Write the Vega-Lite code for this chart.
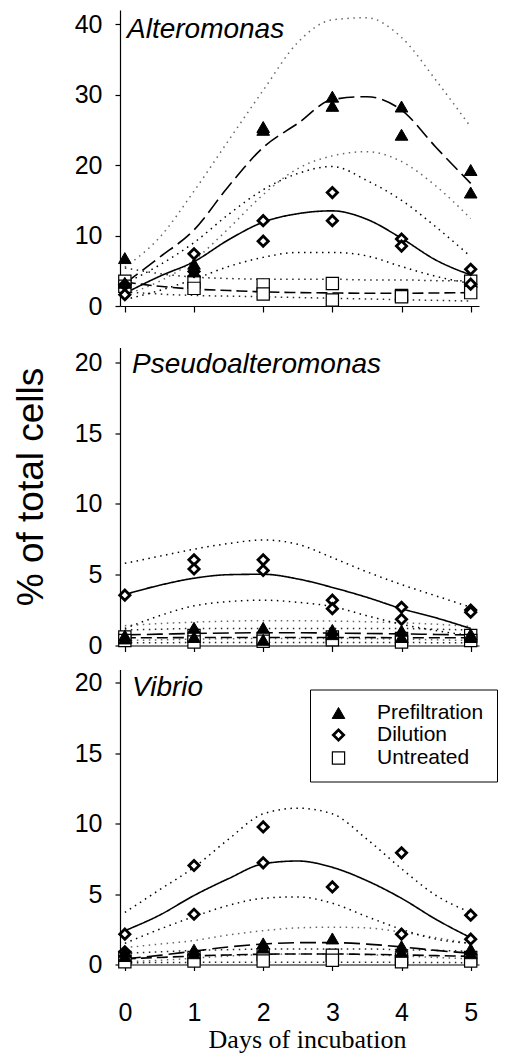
{
"$schema":"https://vega.github.io/schema/vega-lite/v6.json",
"background":"white",
"padding":{"left":12,"top":10,"right":0,"bottom":5},
"spacing":28.5,
"resolve":{"legend":{"shape":"independent","fill":"independent","size":"independent","strokeWidth":"independent","strokeDash":"independent","opacity":"independent"}},
"config":{
"view":{"stroke":null},
"axis":{"grid":false,"domainColor":"#000","domainWidth":1.2,"tickColor":"#000","tickWidth":1.2,"labelColor":"#000","labelFont":"Liberation Sans","labelFontSize":25,"titleColor":"#000","titleFontWeight":"normal"},
"axisX":{"tickSize":6,"labelPadding":30,"labelFlush":false},
"axisY":{"tickSize":5,"labelPadding":13,"titleFont":"Liberation Sans","titleFontSize":37},
"legend":{"labelFont":"Liberation Sans","labelFontSize":21,"labelColor":"#000","strokeColor":"#000","padding":13,"rowPadding":0,"labelOffset":28,"symbolOffset":5,"fillColor":"white","symbolStrokeColor":"#000","symbolOpacity":1},
"title":{"font":"Liberation Sans","fontSize":28,"fontStyle":"italic","fontWeight":"normal","color":"#000","anchor":"start","frame":"group","baseline":"alphabetic"}
},
"datasets":{
"pts":[
{"genus":"Alteromonas","treatment":"Untreated","day":0,"pct":3.5},{"genus":"Alteromonas","treatment":"Untreated","day":0,"pct":2.8},
{"genus":"Alteromonas","treatment":"Untreated","day":1,"pct":3.4},{"genus":"Alteromonas","treatment":"Untreated","day":1,"pct":2.5},
{"genus":"Alteromonas","treatment":"Untreated","day":2,"pct":3.0},{"genus":"Alteromonas","treatment":"Untreated","day":2,"pct":1.7},
{"genus":"Alteromonas","treatment":"Untreated","day":3,"pct":3.2},{"genus":"Alteromonas","treatment":"Untreated","day":3,"pct":0.85},
{"genus":"Alteromonas","treatment":"Untreated","day":4,"pct":1.5},{"genus":"Alteromonas","treatment":"Untreated","day":4,"pct":1.3},
{"genus":"Alteromonas","treatment":"Untreated","day":5,"pct":3.5},{"genus":"Alteromonas","treatment":"Untreated","day":5,"pct":1.9},
{"genus":"Alteromonas","treatment":"Dilution","day":0,"pct":3.0},{"genus":"Alteromonas","treatment":"Dilution","day":0,"pct":1.6},
{"genus":"Alteromonas","treatment":"Dilution","day":1,"pct":7.4},{"genus":"Alteromonas","treatment":"Dilution","day":1,"pct":4.9},
{"genus":"Alteromonas","treatment":"Dilution","day":2,"pct":12.1},{"genus":"Alteromonas","treatment":"Dilution","day":2,"pct":9.2},
{"genus":"Alteromonas","treatment":"Dilution","day":3,"pct":16.1},{"genus":"Alteromonas","treatment":"Dilution","day":3,"pct":12.1},
{"genus":"Alteromonas","treatment":"Dilution","day":4,"pct":9.5},{"genus":"Alteromonas","treatment":"Dilution","day":4,"pct":8.5},
{"genus":"Alteromonas","treatment":"Dilution","day":5,"pct":5.2},{"genus":"Alteromonas","treatment":"Dilution","day":5,"pct":3.1},
{"genus":"Alteromonas","treatment":"Prefiltration","day":0,"pct":6.8},{"genus":"Alteromonas","treatment":"Prefiltration","day":0,"pct":3.3},
{"genus":"Alteromonas","treatment":"Prefiltration","day":1,"pct":6.0},{"genus":"Alteromonas","treatment":"Prefiltration","day":1,"pct":4.9},
{"genus":"Alteromonas","treatment":"Prefiltration","day":2,"pct":25.4},{"genus":"Alteromonas","treatment":"Prefiltration","day":2,"pct":25.0},
{"genus":"Alteromonas","treatment":"Prefiltration","day":3,"pct":29.7},{"genus":"Alteromonas","treatment":"Prefiltration","day":3,"pct":28.4},
{"genus":"Alteromonas","treatment":"Prefiltration","day":4,"pct":28.3},{"genus":"Alteromonas","treatment":"Prefiltration","day":4,"pct":24.3},
{"genus":"Alteromonas","treatment":"Prefiltration","day":5,"pct":19.3},{"genus":"Alteromonas","treatment":"Prefiltration","day":5,"pct":16.1},
{"genus":"Pseudoalteromonas","treatment":"Untreated","day":0,"pct":0.6},{"genus":"Pseudoalteromonas","treatment":"Untreated","day":0,"pct":0.35},
{"genus":"Pseudoalteromonas","treatment":"Untreated","day":1,"pct":0.7},{"genus":"Pseudoalteromonas","treatment":"Untreated","day":1,"pct":0.25},
{"genus":"Pseudoalteromonas","treatment":"Untreated","day":2,"pct":0.5},{"genus":"Pseudoalteromonas","treatment":"Untreated","day":2,"pct":0.3},
{"genus":"Pseudoalteromonas","treatment":"Untreated","day":3,"pct":0.6},{"genus":"Pseudoalteromonas","treatment":"Untreated","day":3,"pct":0.4},
{"genus":"Pseudoalteromonas","treatment":"Untreated","day":4,"pct":0.5},{"genus":"Pseudoalteromonas","treatment":"Untreated","day":4,"pct":0.25},
{"genus":"Pseudoalteromonas","treatment":"Untreated","day":5,"pct":0.7},{"genus":"Pseudoalteromonas","treatment":"Untreated","day":5,"pct":0.35},
{"genus":"Pseudoalteromonas","treatment":"Dilution","day":0,"pct":3.55},
{"genus":"Pseudoalteromonas","treatment":"Dilution","day":1,"pct":6.05},{"genus":"Pseudoalteromonas","treatment":"Dilution","day":1,"pct":5.4},
{"genus":"Pseudoalteromonas","treatment":"Dilution","day":2,"pct":6.05},{"genus":"Pseudoalteromonas","treatment":"Dilution","day":2,"pct":5.3},
{"genus":"Pseudoalteromonas","treatment":"Dilution","day":3,"pct":3.2},{"genus":"Pseudoalteromonas","treatment":"Dilution","day":3,"pct":2.6},
{"genus":"Pseudoalteromonas","treatment":"Dilution","day":4,"pct":2.7},{"genus":"Pseudoalteromonas","treatment":"Dilution","day":4,"pct":1.85},
{"genus":"Pseudoalteromonas","treatment":"Dilution","day":5,"pct":2.5},{"genus":"Pseudoalteromonas","treatment":"Dilution","day":5,"pct":2.35},
{"genus":"Pseudoalteromonas","treatment":"Prefiltration","day":0,"pct":0.7},{"genus":"Pseudoalteromonas","treatment":"Prefiltration","day":0,"pct":0.5},
{"genus":"Pseudoalteromonas","treatment":"Prefiltration","day":1,"pct":1.25},{"genus":"Pseudoalteromonas","treatment":"Prefiltration","day":1,"pct":0.6},
{"genus":"Pseudoalteromonas","treatment":"Prefiltration","day":2,"pct":1.25},{"genus":"Pseudoalteromonas","treatment":"Prefiltration","day":2,"pct":0.4},
{"genus":"Pseudoalteromonas","treatment":"Prefiltration","day":3,"pct":1.1},{"genus":"Pseudoalteromonas","treatment":"Prefiltration","day":3,"pct":0.8},
{"genus":"Pseudoalteromonas","treatment":"Prefiltration","day":4,"pct":1.05},{"genus":"Pseudoalteromonas","treatment":"Prefiltration","day":4,"pct":0.6},
{"genus":"Pseudoalteromonas","treatment":"Prefiltration","day":5,"pct":0.8},{"genus":"Pseudoalteromonas","treatment":"Prefiltration","day":5,"pct":0.6},
{"genus":"Vibrio","treatment":"Untreated","day":0,"pct":0.5},{"genus":"Vibrio","treatment":"Untreated","day":0,"pct":0.2},
{"genus":"Vibrio","treatment":"Untreated","day":1,"pct":0.5},{"genus":"Vibrio","treatment":"Untreated","day":1,"pct":0.25},
{"genus":"Vibrio","treatment":"Untreated","day":2,"pct":0.7},{"genus":"Vibrio","treatment":"Untreated","day":2,"pct":0.25},
{"genus":"Vibrio","treatment":"Untreated","day":3,"pct":0.65},{"genus":"Vibrio","treatment":"Untreated","day":3,"pct":0.3},
{"genus":"Vibrio","treatment":"Untreated","day":4,"pct":0.4},{"genus":"Vibrio","treatment":"Untreated","day":4,"pct":0.2},
{"genus":"Vibrio","treatment":"Untreated","day":5,"pct":0.5},{"genus":"Vibrio","treatment":"Untreated","day":5,"pct":0.25},
{"genus":"Vibrio","treatment":"Dilution","day":0,"pct":2.15},{"genus":"Vibrio","treatment":"Dilution","day":0,"pct":0.9},
{"genus":"Vibrio","treatment":"Dilution","day":1,"pct":7.03},{"genus":"Vibrio","treatment":"Dilution","day":1,"pct":3.57},
{"genus":"Vibrio","treatment":"Dilution","day":2,"pct":9.77},{"genus":"Vibrio","treatment":"Dilution","day":2,"pct":7.22},
{"genus":"Vibrio","treatment":"Dilution","day":3,"pct":5.51},
{"genus":"Vibrio","treatment":"Dilution","day":4,"pct":7.93},{"genus":"Vibrio","treatment":"Dilution","day":4,"pct":2.15},
{"genus":"Vibrio","treatment":"Dilution","day":5,"pct":3.5},{"genus":"Vibrio","treatment":"Dilution","day":5,"pct":1.8},
{"genus":"Vibrio","treatment":"Prefiltration","day":0,"pct":0.9},{"genus":"Vibrio","treatment":"Prefiltration","day":0,"pct":0.6},
{"genus":"Vibrio","treatment":"Prefiltration","day":1,"pct":1.05},{"genus":"Vibrio","treatment":"Prefiltration","day":1,"pct":0.8},
{"genus":"Vibrio","treatment":"Prefiltration","day":2,"pct":1.5},{"genus":"Vibrio","treatment":"Prefiltration","day":2,"pct":1.2},
{"genus":"Vibrio","treatment":"Prefiltration","day":3,"pct":1.85},
{"genus":"Vibrio","treatment":"Prefiltration","day":4,"pct":1.3},{"genus":"Vibrio","treatment":"Prefiltration","day":4,"pct":0.9},
{"genus":"Vibrio","treatment":"Prefiltration","day":5,"pct":1.1},{"genus":"Vibrio","treatment":"Prefiltration","day":5,"pct":0.8}
],
"fits":[
{"genus":"Alteromonas","treatment":"Prefiltration","curve":"fit","day":0,"pct":3.2},{"genus":"Alteromonas","treatment":"Prefiltration","curve":"fit","day":0.5,"pct":6.9},{"genus":"Alteromonas","treatment":"Prefiltration","curve":"fit","day":1,"pct":10.8},{"genus":"Alteromonas","treatment":"Prefiltration","curve":"fit","day":1.5,"pct":17.0},{"genus":"Alteromonas","treatment":"Prefiltration","curve":"fit","day":2,"pct":22.5},{"genus":"Alteromonas","treatment":"Prefiltration","curve":"fit","day":2.5,"pct":25.9},{"genus":"Alteromonas","treatment":"Prefiltration","curve":"fit","day":3,"pct":29.3},{"genus":"Alteromonas","treatment":"Prefiltration","curve":"fit","day":3.5,"pct":29.7},{"genus":"Alteromonas","treatment":"Prefiltration","curve":"fit","day":4,"pct":27.8},{"genus":"Alteromonas","treatment":"Prefiltration","curve":"fit","day":4.5,"pct":22.5},{"genus":"Alteromonas","treatment":"Prefiltration","curve":"fit","day":5,"pct":17.4},
{"genus":"Alteromonas","treatment":"Prefiltration","curve":"upper","day":0,"pct":5.5},{"genus":"Alteromonas","treatment":"Prefiltration","curve":"upper","day":0.5,"pct":9.7},{"genus":"Alteromonas","treatment":"Prefiltration","curve":"upper","day":1,"pct":16.3},{"genus":"Alteromonas","treatment":"Prefiltration","curve":"upper","day":1.5,"pct":23.5},{"genus":"Alteromonas","treatment":"Prefiltration","curve":"upper","day":2,"pct":30.6},{"genus":"Alteromonas","treatment":"Prefiltration","curve":"upper","day":2.5,"pct":37.4},{"genus":"Alteromonas","treatment":"Prefiltration","curve":"upper","day":3,"pct":40.6},{"genus":"Alteromonas","treatment":"Prefiltration","curve":"upper","day":3.5,"pct":40.9},{"genus":"Alteromonas","treatment":"Prefiltration","curve":"upper","day":4,"pct":38.1},{"genus":"Alteromonas","treatment":"Prefiltration","curve":"upper","day":4.5,"pct":32.0},{"genus":"Alteromonas","treatment":"Prefiltration","curve":"upper","day":5,"pct":25.4},
{"genus":"Alteromonas","treatment":"Prefiltration","curve":"lower","day":0,"pct":1.6},{"genus":"Alteromonas","treatment":"Prefiltration","curve":"lower","day":0.5,"pct":3.5},{"genus":"Alteromonas","treatment":"Prefiltration","curve":"lower","day":1,"pct":6.5},{"genus":"Alteromonas","treatment":"Prefiltration","curve":"lower","day":1.5,"pct":11.0},{"genus":"Alteromonas","treatment":"Prefiltration","curve":"lower","day":2,"pct":15.8},{"genus":"Alteromonas","treatment":"Prefiltration","curve":"lower","day":2.5,"pct":19.5},{"genus":"Alteromonas","treatment":"Prefiltration","curve":"lower","day":3,"pct":21.3},{"genus":"Alteromonas","treatment":"Prefiltration","curve":"lower","day":3.5,"pct":21.9},{"genus":"Alteromonas","treatment":"Prefiltration","curve":"lower","day":4,"pct":20.5},{"genus":"Alteromonas","treatment":"Prefiltration","curve":"lower","day":4.5,"pct":17.0},{"genus":"Alteromonas","treatment":"Prefiltration","curve":"lower","day":5,"pct":12.4},
{"genus":"Alteromonas","treatment":"Dilution","curve":"fit","day":0,"pct":1.8},{"genus":"Alteromonas","treatment":"Dilution","curve":"fit","day":0.5,"pct":4.2},{"genus":"Alteromonas","treatment":"Dilution","curve":"fit","day":1,"pct":6.3},{"genus":"Alteromonas","treatment":"Dilution","curve":"fit","day":1.5,"pct":9.4},{"genus":"Alteromonas","treatment":"Dilution","curve":"fit","day":2,"pct":11.9},{"genus":"Alteromonas","treatment":"Dilution","curve":"fit","day":2.5,"pct":13.1},{"genus":"Alteromonas","treatment":"Dilution","curve":"fit","day":3,"pct":13.5},{"genus":"Alteromonas","treatment":"Dilution","curve":"fit","day":3.5,"pct":12.3},{"genus":"Alteromonas","treatment":"Dilution","curve":"fit","day":4,"pct":9.6},{"genus":"Alteromonas","treatment":"Dilution","curve":"fit","day":4.5,"pct":6.5},{"genus":"Alteromonas","treatment":"Dilution","curve":"fit","day":5,"pct":4.4},
{"genus":"Alteromonas","treatment":"Dilution","curve":"upper","day":0,"pct":3.2},{"genus":"Alteromonas","treatment":"Dilution","curve":"upper","day":0.5,"pct":5.8},{"genus":"Alteromonas","treatment":"Dilution","curve":"upper","day":1,"pct":9.0},{"genus":"Alteromonas","treatment":"Dilution","curve":"upper","day":1.5,"pct":13.0},{"genus":"Alteromonas","treatment":"Dilution","curve":"upper","day":2,"pct":16.5},{"genus":"Alteromonas","treatment":"Dilution","curve":"upper","day":2.5,"pct":18.8},{"genus":"Alteromonas","treatment":"Dilution","curve":"upper","day":3,"pct":19.8},{"genus":"Alteromonas","treatment":"Dilution","curve":"upper","day":3.5,"pct":17.8},{"genus":"Alteromonas","treatment":"Dilution","curve":"upper","day":4,"pct":15.0},{"genus":"Alteromonas","treatment":"Dilution","curve":"upper","day":4.5,"pct":11.2},{"genus":"Alteromonas","treatment":"Dilution","curve":"upper","day":5,"pct":7.0},
{"genus":"Alteromonas","treatment":"Dilution","curve":"lower","day":0,"pct":0.9},{"genus":"Alteromonas","treatment":"Dilution","curve":"lower","day":0.5,"pct":2.2},{"genus":"Alteromonas","treatment":"Dilution","curve":"lower","day":1,"pct":3.8},{"genus":"Alteromonas","treatment":"Dilution","curve":"lower","day":1.5,"pct":5.6},{"genus":"Alteromonas","treatment":"Dilution","curve":"lower","day":2,"pct":6.9},{"genus":"Alteromonas","treatment":"Dilution","curve":"lower","day":2.5,"pct":7.6},{"genus":"Alteromonas","treatment":"Dilution","curve":"lower","day":3,"pct":7.6},{"genus":"Alteromonas","treatment":"Dilution","curve":"lower","day":3.5,"pct":7.1},{"genus":"Alteromonas","treatment":"Dilution","curve":"lower","day":4,"pct":5.6},{"genus":"Alteromonas","treatment":"Dilution","curve":"lower","day":4.5,"pct":4.2},{"genus":"Alteromonas","treatment":"Dilution","curve":"lower","day":5,"pct":3.2},
{"genus":"Alteromonas","treatment":"Untreated","curve":"fit","day":0,"pct":3.4},{"genus":"Alteromonas","treatment":"Untreated","curve":"fit","day":0.5,"pct":2.8},{"genus":"Alteromonas","treatment":"Untreated","curve":"fit","day":1,"pct":2.4},{"genus":"Alteromonas","treatment":"Untreated","curve":"fit","day":1.5,"pct":2.2},{"genus":"Alteromonas","treatment":"Untreated","curve":"fit","day":2,"pct":2.0},{"genus":"Alteromonas","treatment":"Untreated","curve":"fit","day":2.5,"pct":1.9},{"genus":"Alteromonas","treatment":"Untreated","curve":"fit","day":3,"pct":1.85},{"genus":"Alteromonas","treatment":"Untreated","curve":"fit","day":3.5,"pct":1.8},{"genus":"Alteromonas","treatment":"Untreated","curve":"fit","day":4,"pct":1.8},{"genus":"Alteromonas","treatment":"Untreated","curve":"fit","day":4.5,"pct":1.85},{"genus":"Alteromonas","treatment":"Untreated","curve":"fit","day":5,"pct":1.9},
{"genus":"Alteromonas","treatment":"Untreated","curve":"upper","day":0,"pct":5.4},{"genus":"Alteromonas","treatment":"Untreated","curve":"upper","day":0.5,"pct":4.6},{"genus":"Alteromonas","treatment":"Untreated","curve":"upper","day":1,"pct":4.1},{"genus":"Alteromonas","treatment":"Untreated","curve":"upper","day":1.5,"pct":3.9},{"genus":"Alteromonas","treatment":"Untreated","curve":"upper","day":2,"pct":3.8},{"genus":"Alteromonas","treatment":"Untreated","curve":"upper","day":2.5,"pct":3.8},{"genus":"Alteromonas","treatment":"Untreated","curve":"upper","day":3,"pct":3.8},{"genus":"Alteromonas","treatment":"Untreated","curve":"upper","day":3.5,"pct":3.7},{"genus":"Alteromonas","treatment":"Untreated","curve":"upper","day":4,"pct":3.7},{"genus":"Alteromonas","treatment":"Untreated","curve":"upper","day":4.5,"pct":3.6},{"genus":"Alteromonas","treatment":"Untreated","curve":"upper","day":5,"pct":3.6},
{"genus":"Alteromonas","treatment":"Untreated","curve":"lower","day":0,"pct":2.0},{"genus":"Alteromonas","treatment":"Untreated","curve":"lower","day":0.5,"pct":1.7},{"genus":"Alteromonas","treatment":"Untreated","curve":"lower","day":1,"pct":1.5},{"genus":"Alteromonas","treatment":"Untreated","curve":"lower","day":1.5,"pct":1.4},{"genus":"Alteromonas","treatment":"Untreated","curve":"lower","day":2,"pct":1.3},{"genus":"Alteromonas","treatment":"Untreated","curve":"lower","day":2.5,"pct":1.2},{"genus":"Alteromonas","treatment":"Untreated","curve":"lower","day":3,"pct":1.1},{"genus":"Alteromonas","treatment":"Untreated","curve":"lower","day":3.5,"pct":1.0},{"genus":"Alteromonas","treatment":"Untreated","curve":"lower","day":4,"pct":0.9},{"genus":"Alteromonas","treatment":"Untreated","curve":"lower","day":4.5,"pct":0.8},{"genus":"Alteromonas","treatment":"Untreated","curve":"lower","day":5,"pct":0.7},
{"genus":"Pseudoalteromonas","treatment":"Prefiltration","curve":"fit","day":0,"pct":0.75},{"genus":"Pseudoalteromonas","treatment":"Prefiltration","curve":"fit","day":0.5,"pct":0.8},{"genus":"Pseudoalteromonas","treatment":"Prefiltration","curve":"fit","day":1,"pct":0.85},{"genus":"Pseudoalteromonas","treatment":"Prefiltration","curve":"fit","day":1.5,"pct":0.88},{"genus":"Pseudoalteromonas","treatment":"Prefiltration","curve":"fit","day":2,"pct":0.9},{"genus":"Pseudoalteromonas","treatment":"Prefiltration","curve":"fit","day":2.5,"pct":0.9},{"genus":"Pseudoalteromonas","treatment":"Prefiltration","curve":"fit","day":3,"pct":0.88},{"genus":"Pseudoalteromonas","treatment":"Prefiltration","curve":"fit","day":3.5,"pct":0.85},{"genus":"Pseudoalteromonas","treatment":"Prefiltration","curve":"fit","day":4,"pct":0.82},{"genus":"Pseudoalteromonas","treatment":"Prefiltration","curve":"fit","day":4.5,"pct":0.78},{"genus":"Pseudoalteromonas","treatment":"Prefiltration","curve":"fit","day":5,"pct":0.75},
{"genus":"Pseudoalteromonas","treatment":"Prefiltration","curve":"upper","day":0,"pct":1.4},{"genus":"Pseudoalteromonas","treatment":"Prefiltration","curve":"upper","day":0.5,"pct":1.55},{"genus":"Pseudoalteromonas","treatment":"Prefiltration","curve":"upper","day":1,"pct":1.65},{"genus":"Pseudoalteromonas","treatment":"Prefiltration","curve":"upper","day":1.5,"pct":1.72},{"genus":"Pseudoalteromonas","treatment":"Prefiltration","curve":"upper","day":2,"pct":1.75},{"genus":"Pseudoalteromonas","treatment":"Prefiltration","curve":"upper","day":2.5,"pct":1.75},{"genus":"Pseudoalteromonas","treatment":"Prefiltration","curve":"upper","day":3,"pct":1.72},{"genus":"Pseudoalteromonas","treatment":"Prefiltration","curve":"upper","day":3.5,"pct":1.68},{"genus":"Pseudoalteromonas","treatment":"Prefiltration","curve":"upper","day":4,"pct":1.6},{"genus":"Pseudoalteromonas","treatment":"Prefiltration","curve":"upper","day":4.5,"pct":1.5},{"genus":"Pseudoalteromonas","treatment":"Prefiltration","curve":"upper","day":5,"pct":1.35},
{"genus":"Pseudoalteromonas","treatment":"Prefiltration","curve":"lower","day":0,"pct":0.35},{"genus":"Pseudoalteromonas","treatment":"Prefiltration","curve":"lower","day":0.5,"pct":0.4},{"genus":"Pseudoalteromonas","treatment":"Prefiltration","curve":"lower","day":1,"pct":0.45},{"genus":"Pseudoalteromonas","treatment":"Prefiltration","curve":"lower","day":1.5,"pct":0.48},{"genus":"Pseudoalteromonas","treatment":"Prefiltration","curve":"lower","day":2,"pct":0.5},{"genus":"Pseudoalteromonas","treatment":"Prefiltration","curve":"lower","day":2.5,"pct":0.5},{"genus":"Pseudoalteromonas","treatment":"Prefiltration","curve":"lower","day":3,"pct":0.5},{"genus":"Pseudoalteromonas","treatment":"Prefiltration","curve":"lower","day":3.5,"pct":0.48},{"genus":"Pseudoalteromonas","treatment":"Prefiltration","curve":"lower","day":4,"pct":0.45},{"genus":"Pseudoalteromonas","treatment":"Prefiltration","curve":"lower","day":4.5,"pct":0.4},{"genus":"Pseudoalteromonas","treatment":"Prefiltration","curve":"lower","day":5,"pct":0.35},
{"genus":"Pseudoalteromonas","treatment":"Dilution","curve":"fit","day":0,"pct":3.6},{"genus":"Pseudoalteromonas","treatment":"Dilution","curve":"fit","day":0.5,"pct":4.25},{"genus":"Pseudoalteromonas","treatment":"Dilution","curve":"fit","day":1,"pct":4.75},{"genus":"Pseudoalteromonas","treatment":"Dilution","curve":"fit","day":1.5,"pct":5.0},{"genus":"Pseudoalteromonas","treatment":"Dilution","curve":"fit","day":2,"pct":5.03},{"genus":"Pseudoalteromonas","treatment":"Dilution","curve":"fit","day":2.5,"pct":4.7},{"genus":"Pseudoalteromonas","treatment":"Dilution","curve":"fit","day":3,"pct":4.1},{"genus":"Pseudoalteromonas","treatment":"Dilution","curve":"fit","day":3.5,"pct":3.4},{"genus":"Pseudoalteromonas","treatment":"Dilution","curve":"fit","day":4,"pct":2.6},{"genus":"Pseudoalteromonas","treatment":"Dilution","curve":"fit","day":4.5,"pct":1.95},{"genus":"Pseudoalteromonas","treatment":"Dilution","curve":"fit","day":5,"pct":1.2},
{"genus":"Pseudoalteromonas","treatment":"Dilution","curve":"upper","day":0,"pct":5.8},{"genus":"Pseudoalteromonas","treatment":"Dilution","curve":"upper","day":0.5,"pct":6.3},{"genus":"Pseudoalteromonas","treatment":"Dilution","curve":"upper","day":1,"pct":6.8},{"genus":"Pseudoalteromonas","treatment":"Dilution","curve":"upper","day":1.5,"pct":7.2},{"genus":"Pseudoalteromonas","treatment":"Dilution","curve":"upper","day":2,"pct":7.45},{"genus":"Pseudoalteromonas","treatment":"Dilution","curve":"upper","day":2.5,"pct":7.15},{"genus":"Pseudoalteromonas","treatment":"Dilution","curve":"upper","day":3,"pct":6.2},{"genus":"Pseudoalteromonas","treatment":"Dilution","curve":"upper","day":3.5,"pct":5.2},{"genus":"Pseudoalteromonas","treatment":"Dilution","curve":"upper","day":4,"pct":4.3},{"genus":"Pseudoalteromonas","treatment":"Dilution","curve":"upper","day":4.5,"pct":3.5},{"genus":"Pseudoalteromonas","treatment":"Dilution","curve":"upper","day":5,"pct":2.7},
{"genus":"Pseudoalteromonas","treatment":"Dilution","curve":"lower","day":0,"pct":1.2},{"genus":"Pseudoalteromonas","treatment":"Dilution","curve":"lower","day":0.5,"pct":2.1},{"genus":"Pseudoalteromonas","treatment":"Dilution","curve":"lower","day":1,"pct":2.8},{"genus":"Pseudoalteromonas","treatment":"Dilution","curve":"lower","day":1.5,"pct":3.1},{"genus":"Pseudoalteromonas","treatment":"Dilution","curve":"lower","day":2,"pct":3.2},{"genus":"Pseudoalteromonas","treatment":"Dilution","curve":"lower","day":2.5,"pct":3.05},{"genus":"Pseudoalteromonas","treatment":"Dilution","curve":"lower","day":3,"pct":2.75},{"genus":"Pseudoalteromonas","treatment":"Dilution","curve":"lower","day":3.5,"pct":2.1},{"genus":"Pseudoalteromonas","treatment":"Dilution","curve":"lower","day":4,"pct":1.5},{"genus":"Pseudoalteromonas","treatment":"Dilution","curve":"lower","day":4.5,"pct":1.05},{"genus":"Pseudoalteromonas","treatment":"Dilution","curve":"lower","day":5,"pct":0.7},
{"genus":"Pseudoalteromonas","treatment":"Untreated","curve":"fit","day":0,"pct":0.55},{"genus":"Pseudoalteromonas","treatment":"Untreated","curve":"fit","day":0.5,"pct":0.55},{"genus":"Pseudoalteromonas","treatment":"Untreated","curve":"fit","day":1,"pct":0.56},{"genus":"Pseudoalteromonas","treatment":"Untreated","curve":"fit","day":1.5,"pct":0.56},{"genus":"Pseudoalteromonas","treatment":"Untreated","curve":"fit","day":2,"pct":0.56},{"genus":"Pseudoalteromonas","treatment":"Untreated","curve":"fit","day":2.5,"pct":0.56},{"genus":"Pseudoalteromonas","treatment":"Untreated","curve":"fit","day":3,"pct":0.56},{"genus":"Pseudoalteromonas","treatment":"Untreated","curve":"fit","day":3.5,"pct":0.56},{"genus":"Pseudoalteromonas","treatment":"Untreated","curve":"fit","day":4,"pct":0.55},{"genus":"Pseudoalteromonas","treatment":"Untreated","curve":"fit","day":4.5,"pct":0.55},{"genus":"Pseudoalteromonas","treatment":"Untreated","curve":"fit","day":5,"pct":0.55},
{"genus":"Pseudoalteromonas","treatment":"Untreated","curve":"upper","day":0,"pct":1.1},{"genus":"Pseudoalteromonas","treatment":"Untreated","curve":"upper","day":0.5,"pct":1.15},{"genus":"Pseudoalteromonas","treatment":"Untreated","curve":"upper","day":1,"pct":1.2},{"genus":"Pseudoalteromonas","treatment":"Untreated","curve":"upper","day":1.5,"pct":1.2},{"genus":"Pseudoalteromonas","treatment":"Untreated","curve":"upper","day":2,"pct":1.2},{"genus":"Pseudoalteromonas","treatment":"Untreated","curve":"upper","day":2.5,"pct":1.2},{"genus":"Pseudoalteromonas","treatment":"Untreated","curve":"upper","day":3,"pct":1.2},{"genus":"Pseudoalteromonas","treatment":"Untreated","curve":"upper","day":3.5,"pct":1.2},{"genus":"Pseudoalteromonas","treatment":"Untreated","curve":"upper","day":4,"pct":1.2},{"genus":"Pseudoalteromonas","treatment":"Untreated","curve":"upper","day":4.5,"pct":1.15},{"genus":"Pseudoalteromonas","treatment":"Untreated","curve":"upper","day":5,"pct":1.1},
{"genus":"Pseudoalteromonas","treatment":"Untreated","curve":"lower","day":0,"pct":0.2},{"genus":"Pseudoalteromonas","treatment":"Untreated","curve":"lower","day":0.5,"pct":0.2},{"genus":"Pseudoalteromonas","treatment":"Untreated","curve":"lower","day":1,"pct":0.21},{"genus":"Pseudoalteromonas","treatment":"Untreated","curve":"lower","day":1.5,"pct":0.22},{"genus":"Pseudoalteromonas","treatment":"Untreated","curve":"lower","day":2,"pct":0.22},{"genus":"Pseudoalteromonas","treatment":"Untreated","curve":"lower","day":2.5,"pct":0.22},{"genus":"Pseudoalteromonas","treatment":"Untreated","curve":"lower","day":3,"pct":0.22},{"genus":"Pseudoalteromonas","treatment":"Untreated","curve":"lower","day":3.5,"pct":0.22},{"genus":"Pseudoalteromonas","treatment":"Untreated","curve":"lower","day":4,"pct":0.21},{"genus":"Pseudoalteromonas","treatment":"Untreated","curve":"lower","day":4.5,"pct":0.2},{"genus":"Pseudoalteromonas","treatment":"Untreated","curve":"lower","day":5,"pct":0.2},
{"genus":"Vibrio","treatment":"Prefiltration","curve":"fit","day":0,"pct":0.4},{"genus":"Vibrio","treatment":"Prefiltration","curve":"fit","day":0.5,"pct":0.65},{"genus":"Vibrio","treatment":"Prefiltration","curve":"fit","day":1,"pct":0.95},{"genus":"Vibrio","treatment":"Prefiltration","curve":"fit","day":1.5,"pct":1.25},{"genus":"Vibrio","treatment":"Prefiltration","curve":"fit","day":2,"pct":1.45},{"genus":"Vibrio","treatment":"Prefiltration","curve":"fit","day":2.5,"pct":1.55},{"genus":"Vibrio","treatment":"Prefiltration","curve":"fit","day":3,"pct":1.55},{"genus":"Vibrio","treatment":"Prefiltration","curve":"fit","day":3.5,"pct":1.45},{"genus":"Vibrio","treatment":"Prefiltration","curve":"fit","day":4,"pct":1.25},{"genus":"Vibrio","treatment":"Prefiltration","curve":"fit","day":4.5,"pct":1.0},{"genus":"Vibrio","treatment":"Prefiltration","curve":"fit","day":5,"pct":0.8},
{"genus":"Vibrio","treatment":"Prefiltration","curve":"upper","day":0,"pct":1.2},{"genus":"Vibrio","treatment":"Prefiltration","curve":"upper","day":0.5,"pct":1.45},{"genus":"Vibrio","treatment":"Prefiltration","curve":"upper","day":1,"pct":1.7},{"genus":"Vibrio","treatment":"Prefiltration","curve":"upper","day":1.5,"pct":2.1},{"genus":"Vibrio","treatment":"Prefiltration","curve":"upper","day":2,"pct":2.4},{"genus":"Vibrio","treatment":"Prefiltration","curve":"upper","day":2.5,"pct":2.6},{"genus":"Vibrio","treatment":"Prefiltration","curve":"upper","day":3,"pct":2.65},{"genus":"Vibrio","treatment":"Prefiltration","curve":"upper","day":3.5,"pct":2.6},{"genus":"Vibrio","treatment":"Prefiltration","curve":"upper","day":4,"pct":2.3},{"genus":"Vibrio","treatment":"Prefiltration","curve":"upper","day":4.5,"pct":1.9},{"genus":"Vibrio","treatment":"Prefiltration","curve":"upper","day":5,"pct":1.5},
{"genus":"Vibrio","treatment":"Prefiltration","curve":"lower","day":0,"pct":0.2},{"genus":"Vibrio","treatment":"Prefiltration","curve":"lower","day":0.5,"pct":0.3},{"genus":"Vibrio","treatment":"Prefiltration","curve":"lower","day":1,"pct":0.45},{"genus":"Vibrio","treatment":"Prefiltration","curve":"lower","day":1.5,"pct":0.6},{"genus":"Vibrio","treatment":"Prefiltration","curve":"lower","day":2,"pct":0.7},{"genus":"Vibrio","treatment":"Prefiltration","curve":"lower","day":2.5,"pct":0.75},{"genus":"Vibrio","treatment":"Prefiltration","curve":"lower","day":3,"pct":0.75},{"genus":"Vibrio","treatment":"Prefiltration","curve":"lower","day":3.5,"pct":0.7},{"genus":"Vibrio","treatment":"Prefiltration","curve":"lower","day":4,"pct":0.6},{"genus":"Vibrio","treatment":"Prefiltration","curve":"lower","day":4.5,"pct":0.5},{"genus":"Vibrio","treatment":"Prefiltration","curve":"lower","day":5,"pct":0.4},
{"genus":"Vibrio","treatment":"Dilution","curve":"fit","day":0,"pct":2.4},{"genus":"Vibrio","treatment":"Dilution","curve":"fit","day":0.5,"pct":3.5},{"genus":"Vibrio","treatment":"Dilution","curve":"fit","day":1,"pct":4.9},{"genus":"Vibrio","treatment":"Dilution","curve":"fit","day":1.5,"pct":6.1},{"genus":"Vibrio","treatment":"Dilution","curve":"fit","day":2,"pct":7.15},{"genus":"Vibrio","treatment":"Dilution","curve":"fit","day":2.5,"pct":7.35},{"genus":"Vibrio","treatment":"Dilution","curve":"fit","day":3,"pct":6.9},{"genus":"Vibrio","treatment":"Dilution","curve":"fit","day":3.5,"pct":5.95},{"genus":"Vibrio","treatment":"Dilution","curve":"fit","day":4,"pct":4.7},{"genus":"Vibrio","treatment":"Dilution","curve":"fit","day":4.5,"pct":3.2},{"genus":"Vibrio","treatment":"Dilution","curve":"fit","day":5,"pct":1.9},
{"genus":"Vibrio","treatment":"Dilution","curve":"upper","day":0,"pct":3.7},{"genus":"Vibrio","treatment":"Dilution","curve":"upper","day":0.5,"pct":5.3},{"genus":"Vibrio","treatment":"Dilution","curve":"upper","day":1,"pct":6.9},{"genus":"Vibrio","treatment":"Dilution","curve":"upper","day":1.5,"pct":8.9},{"genus":"Vibrio","treatment":"Dilution","curve":"upper","day":2,"pct":10.7},{"genus":"Vibrio","treatment":"Dilution","curve":"upper","day":2.5,"pct":11.1},{"genus":"Vibrio","treatment":"Dilution","curve":"upper","day":3,"pct":10.7},{"genus":"Vibrio","treatment":"Dilution","curve":"upper","day":3.5,"pct":8.9},{"genus":"Vibrio","treatment":"Dilution","curve":"upper","day":4,"pct":6.8},{"genus":"Vibrio","treatment":"Dilution","curve":"upper","day":4.5,"pct":4.9},{"genus":"Vibrio","treatment":"Dilution","curve":"upper","day":5,"pct":3.7},
{"genus":"Vibrio","treatment":"Dilution","curve":"lower","day":0,"pct":1.5},{"genus":"Vibrio","treatment":"Dilution","curve":"lower","day":0.5,"pct":2.5},{"genus":"Vibrio","treatment":"Dilution","curve":"lower","day":1,"pct":3.4},{"genus":"Vibrio","treatment":"Dilution","curve":"lower","day":1.5,"pct":4.2},{"genus":"Vibrio","treatment":"Dilution","curve":"lower","day":2,"pct":4.7},{"genus":"Vibrio","treatment":"Dilution","curve":"lower","day":2.5,"pct":4.8},{"genus":"Vibrio","treatment":"Dilution","curve":"lower","day":3,"pct":4.35},{"genus":"Vibrio","treatment":"Dilution","curve":"lower","day":3.5,"pct":3.4},{"genus":"Vibrio","treatment":"Dilution","curve":"lower","day":4,"pct":2.5},{"genus":"Vibrio","treatment":"Dilution","curve":"lower","day":4.5,"pct":1.8},{"genus":"Vibrio","treatment":"Dilution","curve":"lower","day":5,"pct":1.5},
{"genus":"Vibrio","treatment":"Untreated","curve":"fit","day":0,"pct":0.4},{"genus":"Vibrio","treatment":"Untreated","curve":"fit","day":0.5,"pct":0.5},{"genus":"Vibrio","treatment":"Untreated","curve":"fit","day":1,"pct":0.6},{"genus":"Vibrio","treatment":"Untreated","curve":"fit","day":1.5,"pct":0.68},{"genus":"Vibrio","treatment":"Untreated","curve":"fit","day":2,"pct":0.73},{"genus":"Vibrio","treatment":"Untreated","curve":"fit","day":2.5,"pct":0.75},{"genus":"Vibrio","treatment":"Untreated","curve":"fit","day":3,"pct":0.75},{"genus":"Vibrio","treatment":"Untreated","curve":"fit","day":3.5,"pct":0.72},{"genus":"Vibrio","treatment":"Untreated","curve":"fit","day":4,"pct":0.68},{"genus":"Vibrio","treatment":"Untreated","curve":"fit","day":4.5,"pct":0.63},{"genus":"Vibrio","treatment":"Untreated","curve":"fit","day":5,"pct":0.58},
{"genus":"Vibrio","treatment":"Untreated","curve":"upper","day":0,"pct":0.8},{"genus":"Vibrio","treatment":"Untreated","curve":"upper","day":0.5,"pct":0.9},{"genus":"Vibrio","treatment":"Untreated","curve":"upper","day":1,"pct":1.0},{"genus":"Vibrio","treatment":"Untreated","curve":"upper","day":1.5,"pct":1.05},{"genus":"Vibrio","treatment":"Untreated","curve":"upper","day":2,"pct":1.1},{"genus":"Vibrio","treatment":"Untreated","curve":"upper","day":2.5,"pct":1.1},{"genus":"Vibrio","treatment":"Untreated","curve":"upper","day":3,"pct":1.1},{"genus":"Vibrio","treatment":"Untreated","curve":"upper","day":3.5,"pct":1.1},{"genus":"Vibrio","treatment":"Untreated","curve":"upper","day":4,"pct":1.05},{"genus":"Vibrio","treatment":"Untreated","curve":"upper","day":4.5,"pct":1.0},{"genus":"Vibrio","treatment":"Untreated","curve":"upper","day":5,"pct":0.95},
{"genus":"Vibrio","treatment":"Untreated","curve":"lower","day":0,"pct":0.12},{"genus":"Vibrio","treatment":"Untreated","curve":"lower","day":0.5,"pct":0.14},{"genus":"Vibrio","treatment":"Untreated","curve":"lower","day":1,"pct":0.15},{"genus":"Vibrio","treatment":"Untreated","curve":"lower","day":1.5,"pct":0.16},{"genus":"Vibrio","treatment":"Untreated","curve":"lower","day":2,"pct":0.16},{"genus":"Vibrio","treatment":"Untreated","curve":"lower","day":2.5,"pct":0.16},{"genus":"Vibrio","treatment":"Untreated","curve":"lower","day":3,"pct":0.16},{"genus":"Vibrio","treatment":"Untreated","curve":"lower","day":3.5,"pct":0.16},{"genus":"Vibrio","treatment":"Untreated","curve":"lower","day":4,"pct":0.15},{"genus":"Vibrio","treatment":"Untreated","curve":"lower","day":4.5,"pct":0.14},{"genus":"Vibrio","treatment":"Untreated","curve":"lower","day":5,"pct":0.13}
]
},
"vconcat":[
{
"width":359,"height":296,
"title":{"text":"Alteromonas","offset":-34,"dx":7},
"encoding":{
"x":{"field":"day","type":"quantitative","scale":{"domain":[-0.07,5.12],"nice":false,"zero":false},"axis":{"values":[0,1,2,3,4,5],"labels":false,"title":null}},
"y":{"field":"pct","type":"quantitative","scale":{"domain":[0,42],"nice":false},"axis":{"values":[0,10,20,30,40],"title":null,"format":"d"}}
},
"layer":[
{"data":{"name":"fits"},"transform":[{"filter":"datum.genus==='Alteromonas'&&datum.curve!=='fit'"}],
"mark":{"type":"line","interpolate":"monotone","stroke":"#000","strokeWidth":1.5,"strokeDash":[1.5,4.5]},
"encoding":{"detail":[{"field":"treatment","type":"nominal"},{"field":"curve","type":"nominal"}],
"opacity":{"field":"treatment","type":"nominal","scale":{"type":"ordinal","domain":["Untreated","Dilution","Prefiltration"],"range":[0.85,1,0.6]},"legend":null}}},
{"data":{"name":"fits"},"transform":[{"filter":"datum.genus==='Alteromonas'&&datum.curve==='fit'"}],
"mark":{"type":"line","interpolate":"monotone","stroke":"#000","strokeWidth":1.6},
"encoding":{"strokeDash":{"field":"treatment","type":"nominal","scale":{"domain":["Dilution","Prefiltration","Untreated"],"range":[[1,0],[16,6],[11,5]]},"legend":null}}},
{"data":{"name":"pts"},"transform":[{"filter":"datum.genus==='Alteromonas'"}],
"mark":{"type":"point","filled":true,"stroke":"#000","opacity":1},
"encoding":{
"shape":{"field":"treatment","type":"nominal","scale":{"domain":["Prefiltration","Dilution","Untreated"],"range":["triangle-up","diamond","square"]},"legend":null},
"fill":{"field":"treatment","type":"nominal","scale":{"domain":["Prefiltration","Dilution","Untreated"],"range":["#000","#fff","#fff"]},"legend":null},
"size":{"field":"treatment","type":"nominal","scale":{"type":"ordinal","domain":["Prefiltration","Dilution","Untreated"],"range":[160,105,150]},"legend":null},
"strokeWidth":{"field":"treatment","type":"nominal","scale":{"type":"ordinal","domain":["Prefiltration","Dilution","Untreated"],"range":[1,2.8,1.2]},"legend":null}}}
]
},
{
"spacing":11,
"resolve":{"legend":{"shape":"independent","fill":"independent","size":"independent","strokeWidth":"independent","strokeDash":"independent","opacity":"independent"}},
"vconcat":[
{
"width":359,"height":298,
"title":{"text":"Pseudoalteromonas","offset":-31,"dx":12},
"encoding":{
"x":{"field":"day","type":"quantitative","scale":{"domain":[-0.07,5.12],"nice":false,"zero":false},"axis":{"values":[0,1,2,3,4,5],"labels":false,"title":null}},
"y":{"field":"pct","type":"quantitative","scale":{"domain":[0,21.04],"nice":false},"axis":{"values":[0,5,10,15,20],"format":"d","title":"% of total cells","titleY":139,"titlePadding":24}}
},
"layer":[
{"data":{"name":"fits"},"transform":[{"filter":"datum.genus==='Pseudoalteromonas'&&datum.curve!=='fit'"}],
"mark":{"type":"line","interpolate":"monotone","stroke":"#000","strokeWidth":1.5,"strokeDash":[1.5,4.5]},
"encoding":{"detail":[{"field":"treatment","type":"nominal"},{"field":"curve","type":"nominal"}],
"opacity":{"field":"treatment","type":"nominal","scale":{"type":"ordinal","domain":["Untreated","Dilution","Prefiltration"],"range":[0.85,1,0.6]},"legend":null}}},
{"data":{"name":"fits"},"transform":[{"filter":"datum.genus==='Pseudoalteromonas'&&datum.curve==='fit'"}],
"mark":{"type":"line","interpolate":"monotone","stroke":"#000","strokeWidth":1.6},
"encoding":{"strokeDash":{"field":"treatment","type":"nominal","scale":{"domain":["Dilution","Prefiltration","Untreated"],"range":[[1,0],[16,6],[11,5]]},"legend":null}}},
{"data":{"name":"pts"},"transform":[{"filter":"datum.genus==='Pseudoalteromonas'"}],
"mark":{"type":"point","filled":true,"stroke":"#000","opacity":1},
"encoding":{
"shape":{"field":"treatment","type":"nominal","scale":{"domain":["Prefiltration","Dilution","Untreated"],"range":["triangle-up","diamond","square"]},"legend":null},
"fill":{"field":"treatment","type":"nominal","scale":{"domain":["Prefiltration","Dilution","Untreated"],"range":["#000","#fff","#fff"]},"legend":null},
"size":{"field":"treatment","type":"nominal","scale":{"type":"ordinal","domain":["Prefiltration","Dilution","Untreated"],"range":[160,105,150]},"legend":null},
"strokeWidth":{"field":"treatment","type":"nominal","scale":{"type":"ordinal","domain":["Prefiltration","Dilution","Untreated"],"range":[1,2.8,1.2]},"legend":null}}}
]
},
{
"width":359,"height":295,
"title":{"text":"Vibrio","offset":-32,"dx":12},
"encoding":{
"x":{"field":"day","type":"quantitative","scale":{"domain":[-0.07,5.12],"nice":false,"zero":false},"axis":{"values":[0,1,2,3,4,5],"format":"d","title":"Days of incubation","titleFont":"Liberation Serif","titleFontSize":26,"titlePadding":1,"titleX":187}},
"y":{"field":"pct","type":"quantitative","scale":{"domain":[0,20.95],"nice":false},"axis":{"values":[0,5,10,15,20],"format":"d","title":null}}
},
"layer":[
{"data":{"name":"fits"},"transform":[{"filter":"datum.genus==='Vibrio'&&datum.curve!=='fit'"}],
"mark":{"type":"line","interpolate":"monotone","stroke":"#000","strokeWidth":1.5,"strokeDash":[1.5,4.5]},
"encoding":{"detail":[{"field":"treatment","type":"nominal"},{"field":"curve","type":"nominal"}],
"opacity":{"field":"treatment","type":"nominal","scale":{"type":"ordinal","domain":["Untreated","Dilution","Prefiltration"],"range":[0.85,1,0.6]},"legend":null}}},
{"data":{"name":"fits"},"transform":[{"filter":"datum.genus==='Vibrio'&&datum.curve==='fit'"}],
"mark":{"type":"line","interpolate":"monotone","stroke":"#000","strokeWidth":1.6},
"encoding":{"strokeDash":{"field":"treatment","type":"nominal","scale":{"domain":["Dilution","Prefiltration","Untreated"],"range":[[1,0],[16,6],[11,5]]},"legend":null}}},
{"data":{"name":"pts"},"transform":[{"filter":"datum.genus==='Vibrio'"}],
"mark":{"type":"point","filled":true,"stroke":"#000","opacity":1},
"encoding":{
"shape":{"field":"treatment","type":"nominal","scale":{"domain":["Prefiltration","Dilution","Untreated"],"range":["triangle-up","diamond","square"]},"legend":{"orient":"none","legendX":190,"legendY":20,"title":null,"encode":{"symbols":{"update":{"stroke":{"value":"#000"},"opacity":{"value":1}}}}}},
"fill":{"field":"treatment","type":"nominal","scale":{"domain":["Prefiltration","Dilution","Untreated"],"range":["#000","#fff","#fff"]},"legend":{"orient":"none","legendX":190,"legendY":20,"title":null,"encode":{"symbols":{"update":{"stroke":{"value":"#000"},"opacity":{"value":1}}}}}},
"size":{"field":"treatment","type":"nominal","scale":{"type":"ordinal","domain":["Prefiltration","Dilution","Untreated"],"range":[160,105,150]},"legend":{"orient":"none","legendX":190,"legendY":20,"title":null,"encode":{"symbols":{"update":{"stroke":{"value":"#000"},"opacity":{"value":1}}}}}},
"strokeWidth":{"field":"treatment","type":"nominal","scale":{"type":"ordinal","domain":["Prefiltration","Dilution","Untreated"],"range":[1,2.8,1.2]},"legend":{"orient":"none","legendX":190,"legendY":20,"title":null,"encode":{"symbols":{"update":{"stroke":{"value":"#000"},"opacity":{"value":1}}}}}}}}
]
}
]
}
]
}
